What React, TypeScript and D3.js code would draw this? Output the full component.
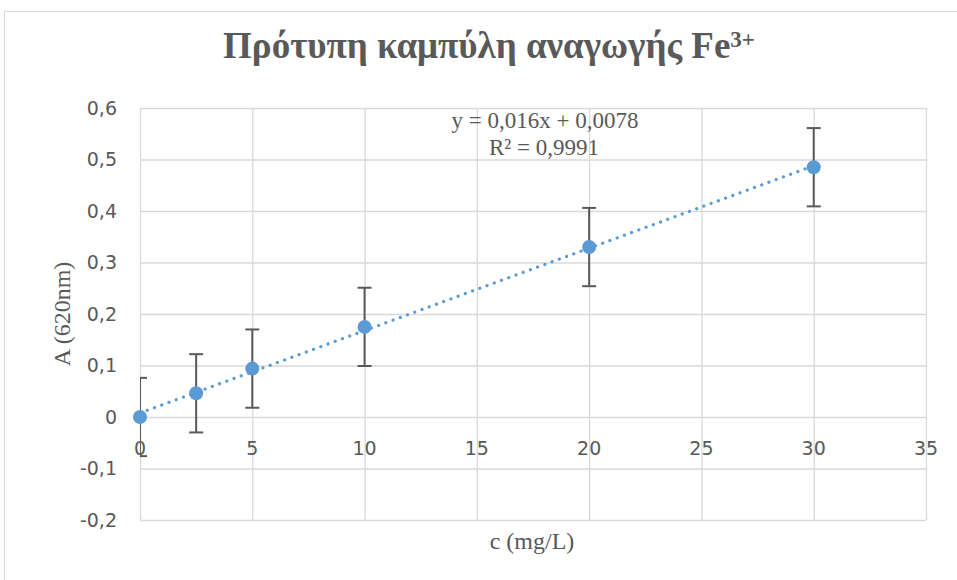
import { useEffect, useRef } from 'react'
import * as d3 from 'd3'

const concentrations = [0, 2.5, 5, 10, 20, 30]
const absorbances = [0, 0.046, 0.094, 0.175, 0.33, 0.485]
const errors = [0.076, 0.076, 0.076, 0.076, 0.076, 0.076]
const xTicks = [0, 5, 10, 15, 20, 25, 30, 35]
const yTicks = [-0.2, -0.1, 0, 0.1, 0.2, 0.3, 0.4, 0.5, 0.6]
const slope = 0.016
const intercept = 0.0078
const TITLE = 'Πρότυπη καμπύλη αναγωγής Fe'

const W = 957, H = 580
const BLUE = '#5b9bd5', GRID = '#d9d9d9', TXT = '#595959'

export default function App() {
  const ref = useRef<SVGSVGElement>(null)
  useEffect(() => {
    if (!ref.current) return
    const svg = d3.select(ref.current)
    svg.selectAll('*').remove()
    const left = 140, right = 926, top = 108, bottom = 520
    const x = d3.scaleLinear().domain([0, 35]).range([left, right])
    const y = d3.scaleLinear().domain([-0.2, 0.6]).range([bottom, top])
    const fmt = d3.formatLocale({ decimal: ',', thousands: '.', grouping: [3], currency: ['', ''], minus: '-' }).format('.1f')

    svg.append('rect').attr('x', 0).attr('y', 0).attr('width', W).attr('height', H).attr('fill', '#fff')
    svg.append('rect').attr('x', 4.5).attr('y', 11.5).attr('width', W + 10).attr('height', H).attr('fill', 'none').attr('stroke', GRID)

    // title
    const t = svg.append('text').attr('x', 489).attr('y', 58).attr('text-anchor', 'middle')
      .style('font-family', '"Liberation Serif", serif').style('font-weight', 'bold').style('font-size', '37px').attr('fill', TXT)
    t.append('tspan').text(TITLE)
    t.append('tspan').attr('dy', -11).style('font-size', '23px').text('3+')

    // grid
    svg.append('g').selectAll('line.h').data(yTicks).join('line')
      .attr('x1', left).attr('x2', right).attr('y1', d => y(d) + 0.5).attr('y2', d => y(d) + 0.5)
      .attr('stroke', GRID).attr('stroke-width', 1.3)
    svg.append('g').selectAll('line.v').data(xTicks).join('line')
      .attr('x1', d => x(d) + 0.5).attr('x2', d => x(d) + 0.5).attr('y1', top).attr('y2', bottom)
      .attr('stroke', GRID).attr('stroke-width', 1.3)

    // tick labels
    svg.append('g').selectAll('text').data(yTicks).join('text')
      .attr('x', 117).attr('y', d => y(d)).attr('dy', '0.36em').attr('text-anchor', 'end')
      .style('font-family', '"DejaVu Sans", sans-serif').style('font-size', '19px').attr('fill', TXT)
      .text(d => (d === 0 ? '0' : fmt(d)))
    svg.append('g').selectAll('text').data(xTicks).join('text')
      .attr('x', d => x(d)).attr('y', y(0) + 31).attr('dy', '0.36em').attr('text-anchor', 'middle')
      .style('font-family', '"DejaVu Sans", sans-serif').style('font-size', '19px').attr('fill', TXT)
      .text(d => d)

    // axis titles
    svg.append('text').attr('transform', `translate(70,${(top + bottom) / 2}) rotate(-90)`).attr('text-anchor', 'middle')
      .style('font-family', '"Liberation Serif", serif').style('font-size', '24px').attr('fill', TXT).text('A (620nm)')
    svg.append('text').attr('x', 532).attr('y', 549).attr('text-anchor', 'middle')
      .style('font-family', '"Liberation Serif", serif').style('font-size', '24px').attr('fill', TXT).text('c (mg/L)')

    // clip for error bars
    svg.append('clipPath').attr('id', 'plotclip').append('rect')
      .attr('x', left).attr('y', top - 20).attr('width', right - left).attr('height', bottom - top + 20)

    const pts = concentrations.map((c, i) => ({ c, a: absorbances[i], e: errors[i] }))
    const eb = svg.append('g').attr('clip-path', 'url(#plotclip)').attr('stroke', TXT).attr('stroke-width', 2)
    pts.forEach(p => {
      const cx = x(p.c)
      eb.append('line').attr('x1', cx).attr('x2', cx).attr('y1', y(p.a + p.e)).attr('y2', y(p.a - p.e))
      eb.append('line').attr('x1', cx - 7).attr('x2', cx + 7).attr('y1', y(p.a + p.e)).attr('y2', y(p.a + p.e))
      eb.append('line').attr('x1', cx - 7).attr('x2', cx + 7).attr('y1', y(p.a - p.e)).attr('y2', y(p.a - p.e))
    })

    // trendline
    const xr = d3.extent(concentrations) as [number, number]
    const line = d3.line<number>().x(d => x(d)).y(d => y(slope * d + intercept))
    svg.append('path').attr('d', line(xr)).attr('fill', 'none').attr('stroke', BLUE)
      .attr('stroke-width', 3.2).attr('stroke-linecap', 'round').attr('stroke-dasharray', '0.1 7.6')

    // markers
    svg.append('g').selectAll('circle').data(pts).join('circle')
      .attr('cx', d => x(d.c)).attr('cy', d => y(d.a)).attr('r', 7).attr('fill', BLUE)

    // equation
    const eq = svg.append('g').style('font-family', '"Liberation Serif", serif').style('font-size', '23px').attr('fill', TXT)
    eq.append('text').attr('x', 545).attr('y', 128).attr('text-anchor', 'middle').text('y = 0,016x + 0,0078')
    eq.append('text').attr('x', 544).attr('y', 155).attr('text-anchor', 'middle').text('R² = 0,9991')
  }, [])
  return (
    <div style={{ position: 'fixed', left: 0, top: 0 }}>
      <svg ref={ref} width={W} height={H} />
    </div>
  )
}
